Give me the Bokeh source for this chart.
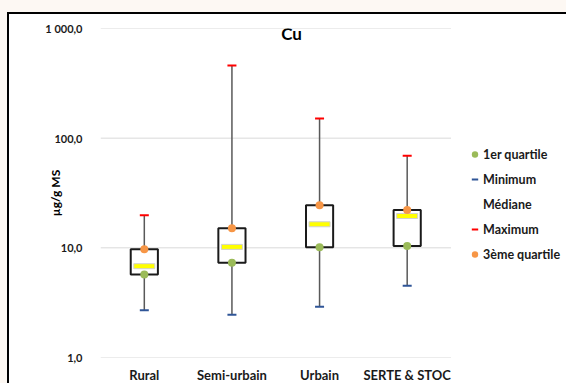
from bokeh.plotting import figure
from bokeh.models import (ColumnDataSource, Range1d, FixedTicker,
                          Legend, LegendItem, Label)
from bokeh.embed import file_html
from bokeh.resources import INLINE

# ---- data (µg/g MS) ----
categories = ["Rural", "Semi-urbain", "Urbain", "SERTE & STOC"]
minimum = [2.7, 2.45, 2.9, 4.5]
q1 = [5.7, 7.3, 10.1, 10.4]
median = [6.8, 10.2, 16.4, 19.5]
q3 = [9.7, 15.1, 24.4, 22.1]
maximum = [19.8, 460.0, 151.0, 69.0]

y_ticks = [1, 10, 100, 1000]
y_tick_labels = ["1,0", "10,0", "100,0", "1 000,0"]

FONT = "Lato"
GREEN = "#9BBB59"
ORANGE = "#F79646"
BLUE = "#2F5597"
RED = "#FF0000"
GRID = "#D9D9D9"

# category slots: one unit per category, marks at the slot centres
n = len(categories)
xpos = [i + 0.5 for i in range(n)]

src = ColumnDataSource(dict(x=xpos, mn=minimum, q1=q1, med=median,
                            q3=q3, mx=maximum))

W, H = 559, 371          # outer size, border included
LEFT, TOP, BOTTOM = 91, 14, 28
# the frame runs on to the right edge so the legend can live inside it
p = figure(x_range=Range1d(0, n * (W - 2 - LEFT) / 349), y_axis_type="log",
           y_range=Range1d(1, 1000), width=W, height=H,
           output_backend="svg", toolbar_location=None,
           min_border_left=LEFT, min_border_right=0,
           min_border_top=TOP, min_border_bottom=BOTTOM)
p.styles = {"margin-left": "7px", "margin-top": "12px",
            "border-left": "2px solid #000", "border-top": "2px solid #000",
            "box-shadow": "0 0 0 20px #FDF8F3"}
p.outline_line_color = None
p.background_fill_color = "white"
p.border_fill_color = "white"

p.xgrid.grid_line_color = None
p.ygrid.grid_line_color = None
# horizontal gridlines over the category area only
p.segment(x0=[0] * len(y_ticks), x1=[n] * len(y_ticks), y0=y_ticks, y1=y_ticks,
          line_color=GRID, line_width=1)

p.yaxis.ticker = FixedTicker(ticks=y_ticks, minor_ticks=[])
p.yaxis.major_label_overrides = {t: l for t, l in zip(y_ticks, y_tick_labels)}
p.yaxis.axis_label = "µg/g MS"
p.yaxis.axis_label_text_font = FONT
p.yaxis.axis_label_text_font_style = "bold"
p.yaxis.axis_label_text_font_size = "12px"
p.yaxis.axis_label_text_color = "#000000"
p.yaxis.axis_label_standoff = -21

p.xaxis.ticker = FixedTicker(ticks=xpos, minor_ticks=[])
p.xaxis.major_label_overrides = {x: c for x, c in zip(xpos, categories)}

for ax in (p.xaxis, p.yaxis):
    ax.axis_line_color = None
    ax.major_tick_line_color = None
    ax.minor_tick_line_color = None
    ax.major_label_text_font = FONT
    ax.major_label_text_font_style = "bold"
    ax.major_label_text_color = "#1a1a1a"
p.yaxis.major_label_text_font_size = "11px"
p.xaxis.major_label_text_font_size = "13px"
p.yaxis.major_label_standoff = 12
p.xaxis.major_label_standoff = 3

# whiskers
p.segment(x0="x", y0="mn", x1="x", y1="mx", source=src,
          line_color="#595959", line_width=1.5)
# boxes
p.vbar(x="x", bottom="q1", top="q3", width=0.31, source=src,
       fill_color="white", line_color="#1a1a1a", line_width=2)
# median bars
p.rect(x="x", y="med", width=21, height=5, width_units="screen",
       height_units="screen", source=src, fill_color="#FFFF00",
       line_color="#D0D0D0", line_width=1)
r_q1 = p.scatter(x="x", y="q1", source=src, marker="circle", size=8,
                 fill_color=GREEN, line_color=None)
r_q3 = p.scatter(x="x", y="q3", source=src, marker="circle", size=8,
                 fill_color=ORANGE, line_color=None)
r_min = p.scatter(x="x", y="mn", source=src, marker="dash", size=9,
                  line_color=BLUE, line_width=2)
r_max = p.scatter(x="x", y="mx", source=src, marker="dash", size=9,
                  line_color=RED, line_width=2)
# legend-only glyph for the median entry
r_med_leg = p.scatter(x=[], y=[], marker="dash", size=9,
                      line_color=GRID, line_width=2)

legend = Legend(items=[
    LegendItem(label="1er quartile", renderers=[r_q1]),
    LegendItem(label="Minimum", renderers=[r_min]),
    LegendItem(label="Médiane", renderers=[r_med_leg]),
    LegendItem(label="Maximum", renderers=[r_max]),
    LegendItem(label="3ème quartile", renderers=[r_q3]),
], location=(366, 95), glyph_width=17, glyph_height=16, label_height=16,
    label_standoff=0, spacing=9, padding=0, margin=0,
    label_text_font=FONT, label_text_font_style="bold",
    label_text_font_size="12.5px", label_text_color="#1a1a1a",
    background_fill_alpha=0, border_line_color=None)
p.add_layout(legend)

title = Label(x=2.18, y=900, text="Cu", text_font=FONT, text_font_style="bold",
              text_font_size="17px", text_align="center",
              text_baseline="middle", text_color="#000000")
p.add_layout(title)

open("out.html", "w").write(file_html(p, INLINE))
